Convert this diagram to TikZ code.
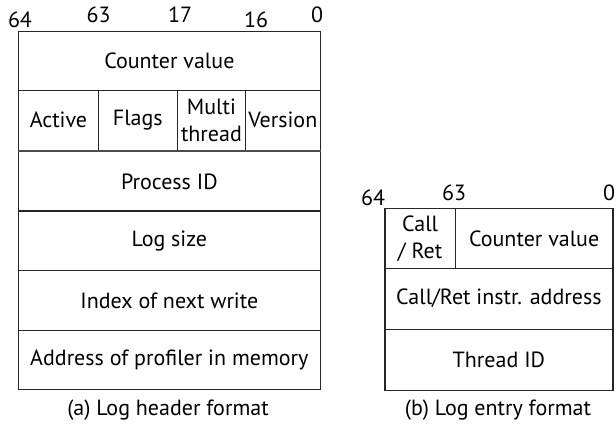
\documentclass[tikz,border=0pt]{standalone}
\usepackage{fontspec}
\setmainfont{PT Sans}
\begin{document}
\begin{tikzpicture}[x=1pt,y=-1pt,
  cell/.style={draw=black!85, line width=1.2pt, inner sep=0pt, anchor=north west, align=center, font=\fontsize{22}{27}\selectfont},
  lbl/.style={inner sep=0pt, font=\fontsize{22}{26}\selectfont},
  captext/.style={inner sep=0pt, font=\fontsize{22}{26}\selectfont}]
\useasboundingbox (0,0) rectangle (616,431);
% left table
\node[cell, minimum width=301.5pt, minimum height=59pt] (cv) at (18,30.5) {Counter value};
\node[cell, minimum width=79.7pt, minimum height=60pt] (act) at (18,89.5) {Active};
\node[cell, minimum width=79pt, minimum height=60pt] (flg) at (97.7,89.5) {Flags};
\node[cell, minimum width=68.3pt, minimum height=60pt] (mt) at (176.7,89.5) {Multi\\thread};
\node[cell, minimum width=74.5pt, minimum height=60pt] (ver) at (245,89.5) {Version};
\node[cell, minimum width=301.5pt, minimum height=60.5pt] (pid) at (18,150.5) {Process ID};
\node[cell, minimum width=301.5pt, minimum height=60pt] (ls) at (18,210) {Log size};
\node[cell, minimum width=301.5pt, minimum height=60pt] (inw) at (18,270) {Index of next write};
\node[cell, minimum width=301.5pt, minimum height=59pt] (apm) at (18,330) {Address of profiler in memory};
\draw[black!70, line width=2.2pt] (act.south west) -- (ver.south east);
\node[lbl] (b64) at (20,20) {64};
\node[lbl] (b63) at (98.5,15) {63};
\node[lbl] (b17) at (180,15) {17};
\node[lbl] (b16) at (256,20) {16};
\node[lbl] (b0) at (317,15) {0};
\node[captext] (capa) at (168,410) {(a) Log header format};
% right table
\node[cell, minimum width=70.5pt, minimum height=59.5pt] (cr) at (384.3,208) {Call\\/ Ret};
\node[cell, minimum width=157.5pt, minimum height=59.5pt] (cv2) at (454.8,208) {Counter value};
\node[cell, minimum width=228pt, minimum height=61pt] (cra) at (384.3,267.5) {Call/Ret instr. address};
\node[cell, minimum width=228pt, minimum height=61.5pt] (tid) at (384.3,328.5) {Thread ID};
\node[lbl] (r64) at (373,198) {64};
\node[lbl] (r63) at (454,193) {63};
\node[lbl] (r0) at (609,193) {0};
\node[captext] (capb) at (498,410) {(b) Log entry format};
\end{tikzpicture}
\end{document}
